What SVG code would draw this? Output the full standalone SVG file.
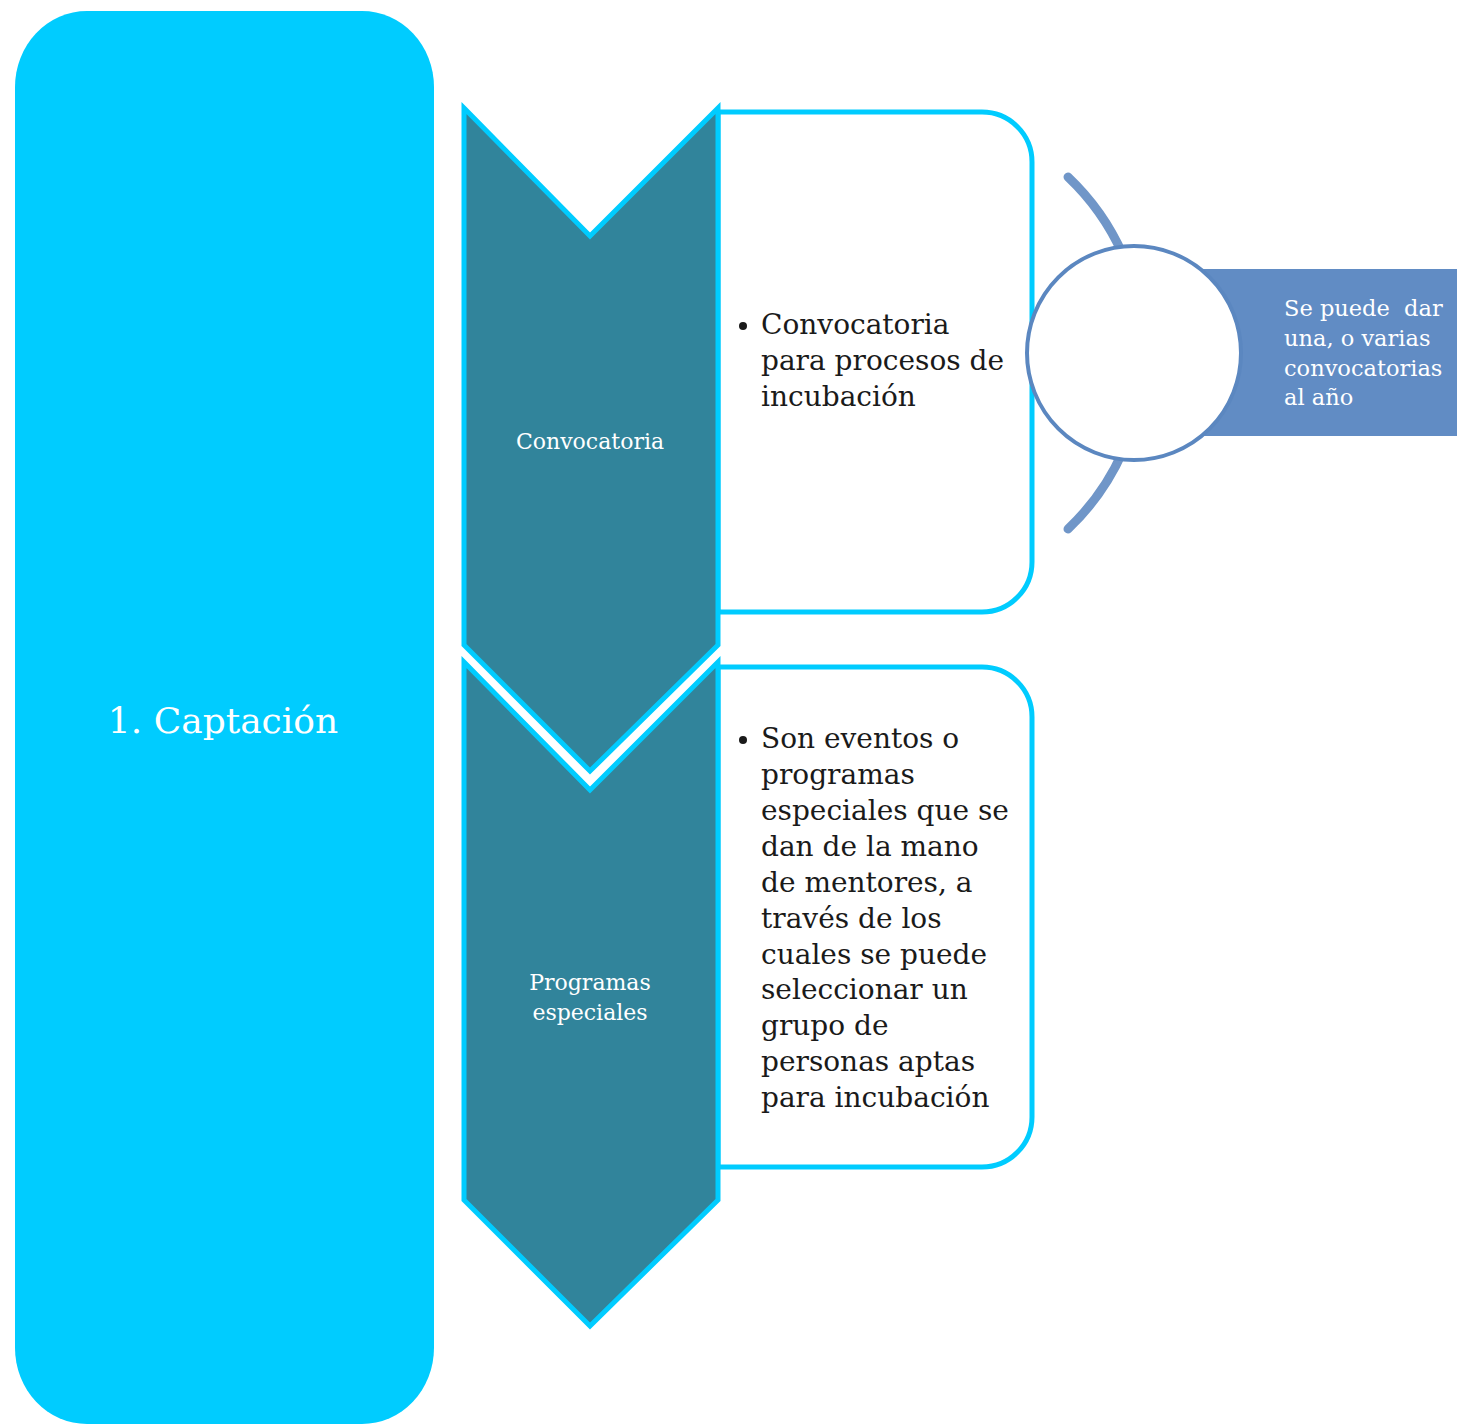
<svg xmlns="http://www.w3.org/2000/svg" width="1457" height="1425" viewBox="0 0 1457 1425">
<style>
.chev{fill:#31849B;stroke:#00CCFF;stroke-width:5;stroke-linejoin:miter}
.box{fill:#FFFFFF;stroke:#00CCFF;stroke-width:5}
.wt{font-family:"DejaVu Serif","Liberation Serif",serif;fill:#FFFFFF}
.bt{font-family:"DejaVu Serif","Liberation Serif",serif;fill:#1A1A1A;font-size:28px}
.arc{fill:none;stroke:#7096C8;stroke-width:9;stroke-linecap:round}
</style>
<rect width="1457" height="1425" fill="#FFFFFF"/>
<g id="captacion">
<rect x="15" y="11" width="419" height="1413" rx="72" ry="76" fill="#00CCFF"/>
<text class="wt" x="223" y="733" font-size="36" text-anchor="middle">1. Captación</text>
</g>
<g id="box1">
<path class="box" d="M718,112 H982 A50,50 0 0 1 1032,162 V562 A50,50 0 0 1 982,612 H718 Z"/>
<circle cx="743" cy="326" r="4" fill="#1A1A1A"/>
<text class="bt"><tspan x="761" y="334">Convocatoria</tspan><tspan x="761" y="370">para procesos de</tspan><tspan x="761" y="406">incubación</tspan></text>
</g>
<g id="box2">
<path class="box" d="M718,667 H982 A50,50 0 0 1 1032,717 V1117 A50,50 0 0 1 982,1167 H718 Z"/>
<circle cx="743" cy="740" r="4" fill="#1A1A1A"/>
<text class="bt"><tspan x="761" y="748">Son eventos o</tspan><tspan x="761" y="784">programas</tspan><tspan x="761" y="820">especiales que se</tspan><tspan x="761" y="856">dan de la mano</tspan><tspan x="761" y="892">de mentores, a</tspan><tspan x="761" y="928">través de los</tspan><tspan x="761" y="964">cuales se puede</tspan><tspan x="761" y="999">seleccionar un</tspan><tspan x="761" y="1035">grupo de</tspan><tspan x="761" y="1071">personas aptas</tspan><tspan x="761" y="1107">para incubación</tspan></text>
</g>
<g id="chevron2">
<polygon class="chev" points="464,662 590,790 718,662 718,1200 590,1326 464,1200"/>
<text class="wt" x="590" y="990" font-size="22" text-anchor="middle">Programas</text>
<text class="wt" x="590" y="1020" font-size="22" text-anchor="middle">especiales</text>
</g>
<g id="chevron1">
<polygon class="chev" points="464,108 590,236 718,108 718,645 590,771 464,645"/>
<text class="wt" x="590" y="449" font-size="22" text-anchor="middle">Convocatoria</text>
</g>
<g id="connectors">
<path class="arc" d="M1068,177 A242,242 0 0 1 1123,255"/>
<path class="arc" d="M1123,451 A242,242 0 0 1 1068,529"/>
</g>
<g id="nota">
<rect x="1150" y="269" width="307" height="167" fill="#618CC4"/>
<circle cx="1134" cy="353" r="107" fill="#FFFFFF" stroke="#5B87C0" stroke-width="4"/>
<text class="wt" font-size="22.5" fill="#F2F6FB"><tspan x="1284" y="316">Se puede&#160; dar</tspan><tspan x="1284" y="346">una, o varias</tspan><tspan x="1284" y="376">convocatorias</tspan><tspan x="1284" y="405">al año</tspan></text>
</g>
</svg>
